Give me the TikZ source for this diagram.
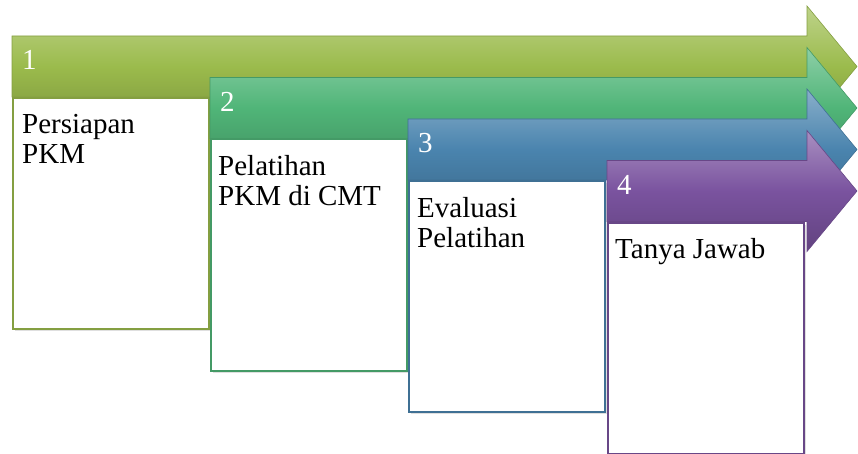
\documentclass[tikz,border=0pt]{standalone}
\usepackage{fontspec}
\setmainfont{Liberation Serif}
\usetikzlibrary{positioning,shadows}

\definecolor{olv}{HTML}{9BBB4C}
\definecolor{grn}{HTML}{50B578}
\definecolor{blu}{HTML}{4A84AE}
\definecolor{prp}{HTML}{7A539F}

\tikzset{
  bar/.style={top color=#1!65!white, bottom color=#1!80!black, middle color=#1,
    draw=#1!85!black, line width=0.6pt},
  card/.style={draw=#1!85!black, line width=2pt, fill=white,
    minimum width=196pt, minimum height=231pt, anchor=north west, inner sep=0pt,
    drop shadow={opacity=0.25, shadow xshift=1.5pt, shadow yshift=-2pt}},
  stepnum/.style={text=white, font=\fontsize{29}{30}\selectfont,
    anchor=base west, inner sep=0pt},
  steptext/.style={font=\fontsize{29}{30}\selectfont, align=left, inner sep=0pt},
}

\begin{document}
\begin{tikzpicture}[x=1pt,y=-1pt]
      \useasboundingbox (0,0) rectangle (858,454);

      % step 1
      \path[bar=olv] (12,36) -- (807,36) -- (807,6) -- (857,66.5)
        -- (807,127) -- (807,97) -- (12,97) -- cycle;
      \node[stepnum] (n1) at (22,70) {1};
      \node[card=olv] (c1) at (12,97) {};
      \node[steptext, below right=17pt and 10pt of c1.north west] (t1) {Persiapan\\PKM};

      % step 2
      \path[bar=grn] (210,77.5) -- (807,77.5) -- (807,47.5) -- (857,108)
        -- (807,168.5) -- (807,138.5) -- (210,138.5) -- cycle;
      \node[stepnum] (n2) at (220,111.5) {2};
      \node[card=grn] (c2) at (210,138.5) {};
      \node[steptext, below right=17pt and 8pt of c2.north west] (t2) {Pelatihan\\PKM di CMT};

      % step 3
      \path[bar=blu] (408,119) -- (807,119) -- (807,89) -- (857,149.5)
        -- (807,210) -- (807,180) -- (408,180) -- cycle;
      \node[stepnum] (n3) at (418,153) {3};
      \node[card=blu] (c3) at (408,180) {};
      \node[steptext, below right=17pt and 9pt of c3.north west] (t3) {Evaluasi\\Pelatihan};

      % step 4
      \path[bar=prp] (607,160.5) -- (807,160.5) -- (807,130.5) -- (857,191)
        -- (807,251.5) -- (807,221.5) -- (607,221.5) -- cycle;
      \node[stepnum] (n4) at (617,194.5) {4};
      \node[card=prp] (c4) at (607,221.5) {};
      \node[steptext, below right=17pt and 8pt of c4.north west] (t4) {Tanya Jawab};
    \end{tikzpicture}
\end{document}
